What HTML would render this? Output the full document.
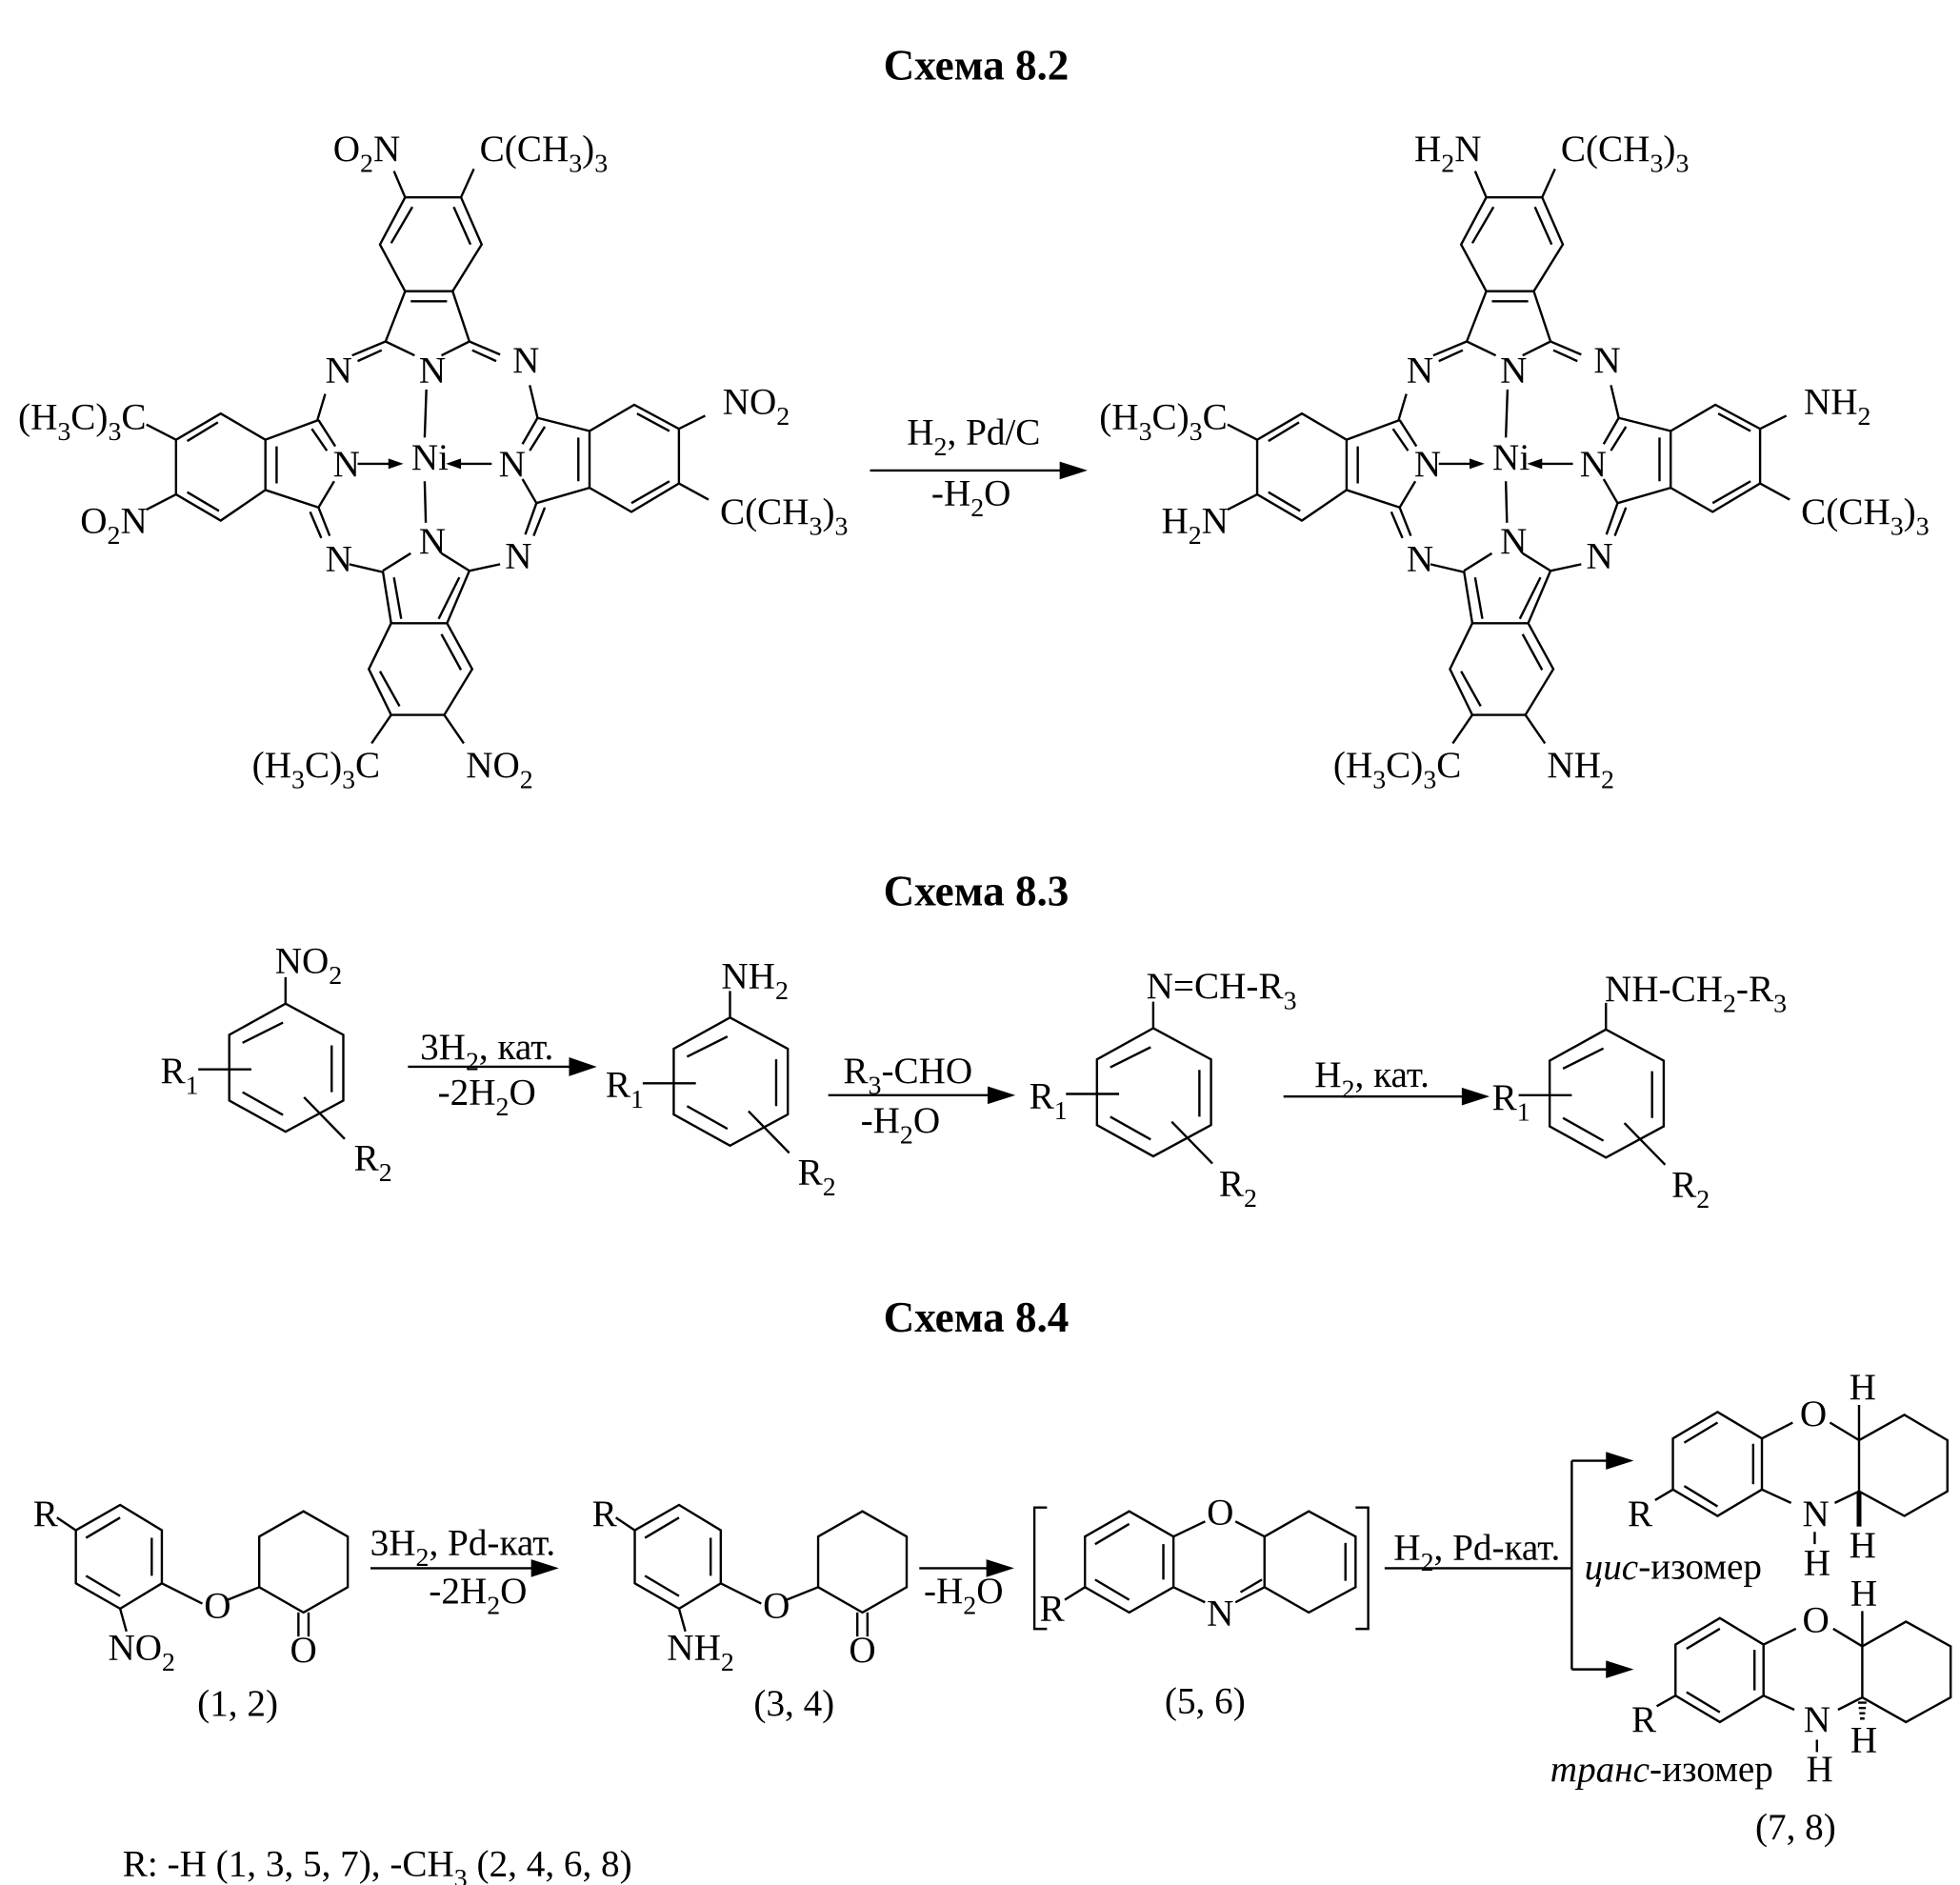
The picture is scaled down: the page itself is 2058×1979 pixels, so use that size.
<!DOCTYPE html>
<html><head><meta charset="utf-8"><style>
html,body{margin:0;padding:0;background:#fff;}
svg{display:block;}
text{font-family:"Liberation Serif",serif;fill:#000;}
</style></head><body>
<svg width="2058" height="1979" viewBox="0 0 1550 1490.5" preserveAspectRatio="none" xmlns="http://www.w3.org/2000/svg">
<defs>
<g id="pc" fill="none" stroke="#000" stroke-width="2.4" vector-effect="non-scaling-stroke">
<polygon points="725,190 825,190 862,298 810,405 725,405 680,298" vector-effect="non-scaling-stroke"/>
<path vector-effect="non-scaling-stroke" d="M700,295L738,212M812,212L842,298M735,428L800,428M725,190L705,130M825,190L848,125
M725,405L690,520M810,405L840,520M690,520L742,552M840,520L790,552M690,520L630,552M683,540L640,565M840,520L895,550M845,540L888,565
M763,630L760,740M760,840L762,935
M582,640L568,700M570,700L475,745M570,700L600,760M558,720L585,770M570,900L598,840M570,900L475,860M475,745L475,860M495,760L495,845
M475,745L395,685L315,745L315,870L395,930L475,860M390,705L335,748M335,865L392,908M315,745L262,710M315,870L262,905
M570,900L590,965M555,910L575,970M625,1030L685,1048M640,800L700,800M880,800L820,800
M948,620L962,695M962,695L1055,725M962,695L935,755M975,715L948,770M960,890L935,835M960,890L1055,855M1055,725L1055,855M1035,740L1035,840
M1055,725L1135,665L1215,720L1215,845L1130,910L1055,855M1140,685L1198,725M1198,840L1130,890M1215,720L1262,690M1215,845L1268,882
M960,890L940,962M975,900L955,965M895,1030L840,1045
M685,1045L735,1005M840,1045L790,1005M685,1045L700,1165M705,1060L718,1155M840,1045L800,1165M822,1060L785,1155M700,1165L800,1165
M700,1165L660,1270L700,1375L795,1375L845,1270L800,1165M680,1275L715,1355M825,1272L790,1190M700,1375L665,1440M795,1375L830,1440"/>
<polygon points="722,800 695,788 695,812" fill="#000" stroke="none"/>
<polygon points="798,800 825,788 825,812" fill="#000" stroke="none"/>
</g>
<g id="ring" fill="none" stroke="#000" stroke-width="1.8">
<path d="M0,0L45.7,24.7L45.7,76.6L0,101.3L-44.5,76.6L-44.5,24.7Z"/>
<path d="M-34,31L-2,15M36.5,33L36.5,70M-34,70L-2,88M0,0L0,-21M-69,52L-27,52M14.6,74L46.8,107"/>
</g>
</defs>

<g font-size="34" font-weight="bold" text-anchor="middle">
<text x="772" y="63">Схема 8.2</text>
<text x="772" y="716">Схема 8.3</text>
<text x="772" y="1053">Схема 8.4</text>
</g>

<g transform="translate(0,90.4) scale(0.4419,0.3454)"><use href="#pc"/></g>
<g transform="translate(855,90.4) scale(0.4419,0.3454)"><use href="#pc"/></g>

<g font-size="29.5" text-anchor="middle" dominant-baseline="central">
<text x="290" y="118">O<tspan font-size="21" baseline-shift="sub">2</tspan>N</text>
<text x="430" y="118">C(CH<tspan font-size="21" baseline-shift="sub">3</tspan>)<tspan font-size="21" baseline-shift="sub">3</tspan></text>
<text x="268" y="293">N</text><text x="342" y="293">N</text><text x="416" y="285">N</text>
<text x="65" y="330">(H<tspan font-size="21" baseline-shift="sub">3</tspan>C)<tspan font-size="21" baseline-shift="sub">3</tspan>C</text>
<text x="598" y="318">NO<tspan font-size="21" baseline-shift="sub">2</tspan></text>
<text x="274" y="367">N</text><text x="340" y="362">Ni</text><text x="405" y="367">N</text>
<text x="90" y="412">O<tspan font-size="21" baseline-shift="sub">2</tspan>N</text>
<text x="620" y="405">C(CH<tspan font-size="21" baseline-shift="sub">3</tspan>)<tspan font-size="21" baseline-shift="sub">3</tspan></text>
<text x="268" y="442">N</text><text x="342" y="428">N</text><text x="410" y="440">N</text>
<text x="250" y="605">(H<tspan font-size="21" baseline-shift="sub">3</tspan>C)<tspan font-size="21" baseline-shift="sub">3</tspan>C</text>
<text x="395" y="605">NO<tspan font-size="21" baseline-shift="sub">2</tspan></text>

<text x="1145" y="118">H<tspan font-size="21" baseline-shift="sub">2</tspan>N</text>
<text x="1285" y="118">C(CH<tspan font-size="21" baseline-shift="sub">3</tspan>)<tspan font-size="21" baseline-shift="sub">3</tspan></text>
<text x="1123" y="293">N</text><text x="1197" y="293">N</text><text x="1271" y="285">N</text>
<text x="920" y="330">(H<tspan font-size="21" baseline-shift="sub">3</tspan>C)<tspan font-size="21" baseline-shift="sub">3</tspan>C</text>
<text x="1453" y="318">NH<tspan font-size="21" baseline-shift="sub">2</tspan></text>
<text x="1129" y="367">N</text><text x="1195" y="362">Ni</text><text x="1260" y="367">N</text>
<text x="945" y="412">H<tspan font-size="21" baseline-shift="sub">2</tspan>N</text>
<text x="1475" y="405">C(CH<tspan font-size="21" baseline-shift="sub">3</tspan>)<tspan font-size="21" baseline-shift="sub">3</tspan></text>
<text x="1123" y="442">N</text><text x="1197" y="428">N</text><text x="1265" y="440">N</text>
<text x="1105" y="605">(H<tspan font-size="21" baseline-shift="sub">3</tspan>C)<tspan font-size="21" baseline-shift="sub">3</tspan>C</text>
<text x="1250" y="605">NH<tspan font-size="21" baseline-shift="sub">2</tspan></text>

<text x="770" y="342">H<tspan font-size="21" baseline-shift="sub">2</tspan>, Pd/C</text>
<text x="768" y="390">-H<tspan font-size="21" baseline-shift="sub">2</tspan>O</text>
</g>
<line x1="688" y1="372" x2="845" y2="372" stroke="#000" stroke-width="1.8"/>
<polygon points="860,372 838,365 838,379"/>

<use href="#ring" transform="translate(225.8,793.6)"/>
<use href="#ring" transform="translate(577.3,804.6)"/>
<use href="#ring" transform="translate(912,813)"/>
<use href="#ring" transform="translate(1270,814)"/>
<g stroke="#000" stroke-width="1.8">
<line x1="322.6" y1="843.5" x2="458" y2="843.5"/>
<line x1="655" y1="866" x2="790" y2="866"/>
<line x1="1015" y1="867" x2="1164" y2="867"/>
</g>
<polygon points="472,843.5 450,836 450,851"/>
<polygon points="803,866 781,859 781,873"/>
<polygon points="1178,867 1156,860 1156,874"/>
<g font-size="29.5" text-anchor="middle" dominant-baseline="central">
<text x="244" y="760">NO<tspan font-size="21" baseline-shift="sub">2</tspan></text>
<text x="142" y="847">R<tspan font-size="21" baseline-shift="sub">1</tspan></text>
<text x="295" y="916">R<tspan font-size="21" baseline-shift="sub">2</tspan></text>
<text x="385" y="828">3H<tspan font-size="21" baseline-shift="sub">2</tspan>, кат.</text>
<text x="385" y="864">-2H<tspan font-size="21" baseline-shift="sub">2</tspan>O</text>
<text x="597" y="772">NH<tspan font-size="21" baseline-shift="sub">2</tspan></text>
<text x="494" y="858">R<tspan font-size="21" baseline-shift="sub">1</tspan></text>
<text x="646" y="927">R<tspan font-size="21" baseline-shift="sub">2</tspan></text>
<text x="718" y="847">R<tspan font-size="21" baseline-shift="sub">3</tspan>-CHO</text>
<text x="712" y="886">-H<tspan font-size="21" baseline-shift="sub">2</tspan>O</text>
<text x="966" y="780">N=CH-R<tspan font-size="21" baseline-shift="sub">3</tspan></text>
<text x="829" y="867">R<tspan font-size="21" baseline-shift="sub">1</tspan></text>
<text x="979" y="936">R<tspan font-size="21" baseline-shift="sub">2</tspan></text>
<text x="1085" y="850">H<tspan font-size="21" baseline-shift="sub">2</tspan>, кат.</text>
<text x="1341" y="782">NH-CH<tspan font-size="21" baseline-shift="sub">2</tspan>-R<tspan font-size="21" baseline-shift="sub">3</tspan></text>
<text x="1195" y="868">R<tspan font-size="21" baseline-shift="sub">1</tspan></text>
<text x="1337" y="937">R<tspan font-size="21" baseline-shift="sub">2</tspan></text>
</g>

<g fill="none" stroke="#000" stroke-width="1.8">
<path d="M60,1210L95,1190L128,1210L128,1252L95,1272L60,1252Z"/>
<path d="M68,1216L95,1200M120,1216L120,1246M68,1246L95,1262M60,1210L45,1200M95,1272L100,1290M128,1252L160,1268M180,1265L205,1255"/>
<path d="M205,1215L240,1195L275,1215L275,1255L240,1275L205,1255Z"/>
<path d="M236,1275L236,1294M244,1275L244,1294"/>
<g transform="translate(442,0)">
<path d="M60,1210L95,1190L128,1210L128,1252L95,1272L60,1252Z"/>
<path d="M68,1216L95,1200M120,1216L120,1246M68,1246L95,1262M60,1210L45,1200M95,1272L100,1290M128,1252L160,1268M180,1265L205,1255"/>
<path d="M205,1215L240,1195L275,1215L275,1255L240,1275L205,1255Z"/>
<path d="M236,1275L236,1294M244,1275L244,1294"/>
</g>
<path d="M858,1215L893,1195L928,1215L928,1255L893,1275L858,1255Z"/>
<path d="M866,1221L893,1205M920,1221L920,1249M866,1249L893,1265M858,1255L842,1265M928,1215L953,1203M977,1203L1000,1215M928,1255L953,1267M977,1267L1000,1255M981,1259L998,1249"/>
<path d="M1000,1215L1035,1195L1072,1215L1072,1255L1035,1275L1000,1255Z"/>
<path d="M1064,1220L1064,1250"/>
<path d="M828,1192L818,1192L818,1288L828,1288M1072,1192L1082,1192L1082,1288L1072,1288"/>
<path d="M293,1240L428,1240M727,1240L788,1240M1095,1240L1243,1240M1243,1155L1243,1320M1243,1155L1278,1155M1243,1320L1278,1320"/>
</g>
<polygon points="442,1240 420,1233 420,1247"/>
<polygon points="802,1240 780,1233 780,1247"/>
<polygon points="1292,1155 1270,1148 1270,1162"/>
<polygon points="1292,1320 1270,1313 1270,1327"/>

<g transform="translate(1218,1058) scale(0.256,0.2786)" fill="none" stroke="#000" stroke-width="2.4">
<path vector-effect="non-scaling-stroke" d="M548,210L685,285L685,430L548,505L410,430L410,285Z"/>
<path vector-effect="non-scaling-stroke" d="M445,297L548,240M658,300L658,415M445,420L548,478M410,430L355,460M685,285L780,240M895,240L985,290M685,430L775,468M910,468L985,435M985,290L985,435M985,290L1125,218L1258,290L1258,435L1125,505L985,435M985,290L985,190M848,550L848,585"/>
<path vector-effect="non-scaling-stroke" stroke-width="5" d="M985,435L985,535"/>
<path vector-effect="non-scaling-stroke" d="M555,795L690,870L690,1015L555,1090L418,1015L418,870Z"/>
<path vector-effect="non-scaling-stroke" d="M452,882L555,825M662,885L662,1000M452,1005L555,1062M418,1015L360,1045M690,870L790,825M905,825L995,875M690,1015L785,1055M920,1055L995,1020M995,875L995,1020M995,875L1130,805L1268,875L1268,1020L1130,1090L995,1020M995,875L995,775M855,1140L855,1175"/>
<path vector-effect="non-scaling-stroke" d="M982,1035L1008,1035M984,1050L1006,1050M986,1065L1004,1065M988,1080L1002,1080"/>
</g>

<g font-size="29.5" text-anchor="middle" dominant-baseline="central">
<text x="36" y="1197">R</text>
<text x="172" y="1270">O</text>
<text x="112" y="1303">NO<tspan font-size="21" baseline-shift="sub">2</tspan></text>
<text x="240" y="1305">O</text>
<text x="188" y="1347">(1, 2)</text>
<text x="366" y="1220">3H<tspan font-size="21" baseline-shift="sub">2</tspan>, Pd-кат.</text>
<text x="378" y="1258">-2H<tspan font-size="21" baseline-shift="sub">2</tspan>O</text>
<text x="478" y="1197">R</text>
<text x="614" y="1270">O</text>
<text x="554" y="1303">NH<tspan font-size="21" baseline-shift="sub">2</tspan></text>
<text x="682" y="1305">O</text>
<text x="628" y="1347">(3, 4)</text>
<text x="762" y="1258">-H<tspan font-size="21" baseline-shift="sub">2</tspan>O</text>
<text x="832" y="1272">R</text>
<text x="965" y="1196">O</text>
<text x="965" y="1276">N</text>
<text x="953" y="1345">(5, 6)</text>
<text x="1168" y="1224">H<tspan font-size="21" baseline-shift="sub">2</tspan>, Pd-кат.</text>
<text x="1297" y="1197">R</text>
<text x="1434" y="1118">O</text>
<text x="1436" y="1197">N</text>
<text x="1473" y="1097">H</text>
<text x="1473" y="1222">H</text>
<text x="1437" y="1236">H</text>
<text x="1300" y="1360">R</text>
<text x="1436" y="1281">O</text>
<text x="1437" y="1360">N</text>
<text x="1474" y="1260">H</text>
<text x="1474" y="1376">H</text>
<text x="1439" y="1399">H</text>
<text x="1420" y="1445">(7, 8)</text>
</g>
<g font-size="29.5" dominant-baseline="central">
<text x="1253" y="1239"><tspan font-style="italic">цис</tspan>-изомер</text>
<text x="1226" y="1399"><tspan font-style="italic">транс</tspan>-изомер</text>
<text x="97" y="1474">R: -H (1, 3, 5, 7), -CH<tspan font-size="21" baseline-shift="sub">3</tspan> (2, 4, 6, 8)</text>
</g>
</svg>
</body></html>
